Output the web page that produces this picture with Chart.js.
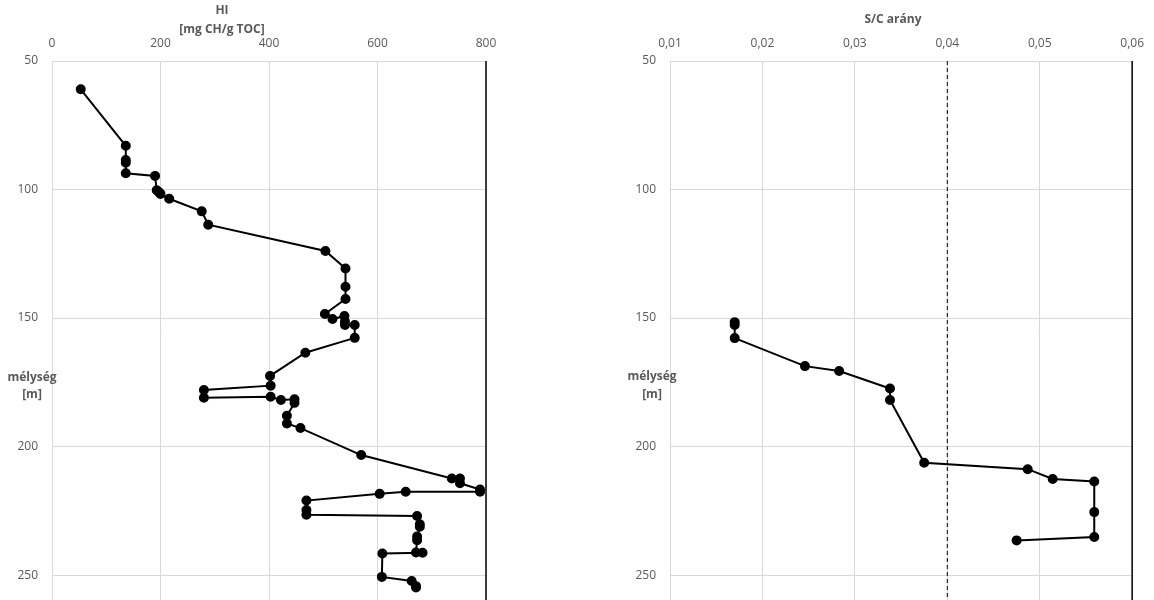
<!DOCTYPE html>
<html>
<head>
<meta charset="utf-8">
<script src="https://cdn.jsdelivr.net/npm/chart.js@4.4.0/dist/chart.umd.min.js"></script>
<style>
  body { margin: 0; background: #fff; overflow: hidden; height: 600px; }
  canvas { position: absolute; top: 0; }
  #hiChart { left: 0; }
  #scChart { left: 577px; }
</style>
</head>
<body>
<canvas id="hiChart" width="577" height="622"></canvas>
<canvas id="scChart" width="577" height="622"></canvas>
<script>
// mélység [m] és HI [mg CH/g TOC]
const hiDepth = [61, 83, 88.5, 89.6, 93.7, 94.7, 100.3, 101, 101.7, 103.6, 108.5, 113.7,
  123.9, 130.7, 137.8, 142.6, 148.4, 150.4, 149.2, 151.4, 152.7, 152.7, 157.7, 163.5,
  172.5, 176.3, 178, 181, 180.6, 181.9, 181.6, 183, 188, 191, 192.8, 203.3,
  212.4, 212.4, 214.3, 216.7, 217.6, 217.6, 218.4, 221, 224.7, 226.5, 227, 230.2,
  231.2, 235, 236.4, 241.2, 241.3, 241.6, 250.7, 252.3, 254.3, 254.8];
const hiValues = [53, 136, 136, 136, 136, 190, 193, 197, 200, 216, 276, 288,
  504, 541, 541, 541, 503, 517, 539, 540, 540, 558, 558, 467,
  402, 403, 280, 280, 403, 422, 447, 447, 433, 433, 458, 570,
  737, 752, 752, 789, 789, 652, 604, 469, 469, 469, 673, 678,
  678, 673, 673, 671, 683, 609, 608, 663, 671, 671];

// mélység [m] és S/C arány
const scDepth = [151.6, 152.7, 157.8, 168.7, 170.6, 177.4, 181.9, 206.3, 208.8, 212.6, 213.6, 225.5, 235.2, 236.5];
const scValues = [0.0170, 0.0170, 0.0170, 0.0246, 0.0283, 0.0338, 0.0338, 0.0375, 0.0487, 0.0514, 0.0559, 0.0559, 0.0559, 0.0475];
const scLimit = 0.04;

const depthTicks = [50, 100, 150, 200, 250];
const depthMin = 50, depthMax = 260;
const hiTicks = [0, 200, 400, 600, 800];
const scTicks = [0.01, 0.02, 0.03, 0.04, 0.05, 0.06];

const FONT = '"Open Sans", "Liberation Sans", sans-serif';
const GREY = '#595959';
const GRID = '#d9d9d9';

const textPlugin = {
  id: 'textPlugin',
  afterDraw(chart, args, opts) {
    const ctx = chart.ctx;
    const a = chart.chartArea;
    ctx.save();
    // jobb oldali fekete keret
    ctx.strokeStyle = '#000';
    ctx.lineWidth = 1.5;
    ctx.beginPath();
    ctx.moveTo(a.right, a.top);
    ctx.lineTo(a.right, a.bottom);
    ctx.stroke();
    ctx.fillStyle = GREY;
    ctx.font = 'bold 12px ' + FONT;
    ctx.textAlign = 'center';
    ctx.textBaseline = 'middle';
    (opts.lines || []).forEach(l => ctx.fillText(l.text, l.x, l.y));
    ctx.restore();
  }
};

function toXY(xs, ys) {
  return xs.map((x, i) => ({ x: x, y: ys[i] }));
}

function makeOptions(xTicks, xFmt, yWidth, padRight, lines) {
  return {
    responsive: false,
    animation: false,
    devicePixelRatio: 1,
    layout: { padding: { left: 0, right: padRight, top: 0, bottom: 0 } },
    scales: {
      x: {
        type: 'linear',
        position: 'top',
        min: xTicks[0],
        max: xTicks[xTicks.length - 1],
        afterBuildTicks: s => { s.ticks = xTicks.map(v => ({ value: v })); },
        afterFit: s => { s.height = 61; },
        grid: { color: GRID, drawTicks: false },
        border: { color: GRID },
        ticks: { color: GREY, padding: 10, font: { family: FONT, size: 12 }, callback: xFmt, maxRotation: 0 }
      },
      y: {
        type: 'linear',
        reverse: true,
        min: depthMin,
        max: depthMax,
        afterBuildTicks: s => { s.ticks = depthTicks.map(v => ({ value: v })); },
        afterFit: s => { s.width = yWidth; },
        grid: { color: GRID, drawTicks: false },
        border: { color: GRID },
        ticks: { color: GREY, padding: 14, font: { family: FONT, size: 12 } }
      }
    },
    plugins: {
      legend: { display: false },
      tooltip: { enabled: false },
      textPlugin: { lines: lines }
    }
  };
}

const lineStyle = {
  borderColor: '#000',
  backgroundColor: '#000',
  borderWidth: 2,
  pointRadius: 4,
  pointBackgroundColor: '#000',
  pointBorderColor: '#000',
  fill: false,
  tension: 0
};

new Chart(document.getElementById('hiChart'), {
  type: 'line',
  data: {
    datasets: [Object.assign({ label: 'HI', data: toXY(hiValues, hiDepth) }, lineStyle)]
  },
  options: makeOptions(hiTicks, v => v, 52, 91, [
    { text: 'HI', x: 222, y: 11 },
    { text: '[mg CH/g TOC]', x: 222, y: 30 },
    { text: 'mélység', x: 32, y: 378 },
    { text: '[m]', x: 32, y: 395 }
  ]),
  plugins: [textPlugin]
});

new Chart(document.getElementById('scChart'), {
  type: 'line',
  data: {
    datasets: [
      Object.assign({ label: 'S/C arány', data: toXY(scValues, scDepth) }, lineStyle),
      {
        label: 'határ',
        data: [{ x: scLimit, y: depthMin }, { x: scLimit, y: depthMax }],
        borderColor: '#000',
        borderWidth: 1,
        borderDash: [4, 3],
        pointRadius: 0,
        fill: false
      }
    ]
  },
  options: makeOptions(scTicks, v => Number(v).toFixed(2).replace('.', ','), 93, 15.5, [
    { text: 'S/C arány', x: 316, y: 20 },
    { text: 'mélység', x: 75, y: 377 },
    { text: '[m]', x: 75, y: 395 }
  ]),
  plugins: [textPlugin]
});
</script>
</body>
</html>
